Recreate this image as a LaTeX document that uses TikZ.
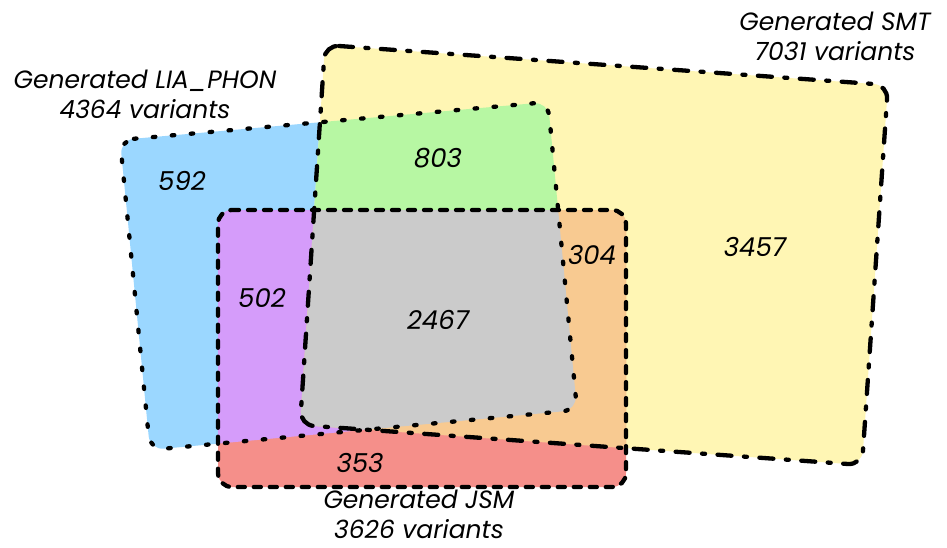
\documentclass[tikz,border=0pt]{standalone}
\usepackage{fontspec}
\setmainfont{Poppins}

\definecolor{liablue}{RGB}{155,215,255}
\definecolor{smtyellow}{RGB}{255,246,180}
\definecolor{bothgreen}{RGB}{183,247,163}
\definecolor{ljpurple}{RGB}{213,156,250}
\definecolor{sjorange}{RGB}{248,202,145}
\definecolor{jsmred}{RGB}{245,143,138}
\definecolor{allgray}{RGB}{203,203,203}

\newcommand\liashape{(120,140) -- (548,102) -- (577,410) -- (150,450) -- cycle}
\newcommand\smtshape{(325,45) -- (888,85) -- (862,465) -- (300,425) -- cycle}
\newcommand\jsmshape{(218,210) -- (626,210) -- (626,487) -- (218,487) -- cycle}

\begin{document}
\begin{tikzpicture}
[x = 1pt, y = -1pt,
 rounded corners = 14pt,
 lia/.style = {draw = black, line width = 4.3pt, line cap = round, dash pattern = on 2.5pt off 16.5pt},
 smt/.style = {draw = black, line width = 4.3pt, line cap = round, dash pattern = on 14pt off 12.5pt on 3pt off 12.5pt},
 jsm/.style = {draw = black, line width = 4.3pt, line cap = round, dash pattern = on 7pt off 9pt},
 count/.style = {font = \fontsize{26}{30}\selectfont\itshape},
 title/.style = {align = center, inner sep = 0pt, font = \fontsize{25}{30}\selectfont\itshape}
 ]
\useasboundingbox (0,0) rectangle (947,548);
% single sets
\fill [liablue] \liashape;
\fill [smtyellow] \smtshape;
\fill [jsmred] \jsmshape;
% overlaps
\begin{scope}
\clip \liashape;
\fill [bothgreen] \smtshape;
\end{scope}
\begin{scope}
\clip \liashape;
\fill [ljpurple] \jsmshape;
\end{scope}
\begin{scope}
\clip \smtshape;
\fill [sjorange] \jsmshape;
\end{scope}
\begin{scope}
\clip \liashape;
\clip \smtshape;
\fill [allgray] \jsmshape;
\end{scope}
% outlines
\path [smt] \smtshape;
\path [lia] \liashape;
\path [jsm] \jsmshape;
% counts
\node [count] (onlylia) at (182,181) {592};
\node [count] (liasmt) at (438,158) {803};
\node [count] (onlysmt) at (755,247) {3457};
\node [count] (smtjsm) at (592,255) {304};
\node [count] (liajsm) at (262,298) {502};
\node [count] (allthree) at (438,320) {2467};
\node [count] (onlyjsm) at (360,463) {353};
% set names
\node [title] (smtname) at (835,36) {Generated SMT\\7031 variants};
\node [title] (lianame) at (145,94) {Generated LIA\_PHON\\4364 variants};
\node [title] (jsmname) at (419,514) {Generated JSM\\3626 variants};
\end{tikzpicture}
\end{document}
